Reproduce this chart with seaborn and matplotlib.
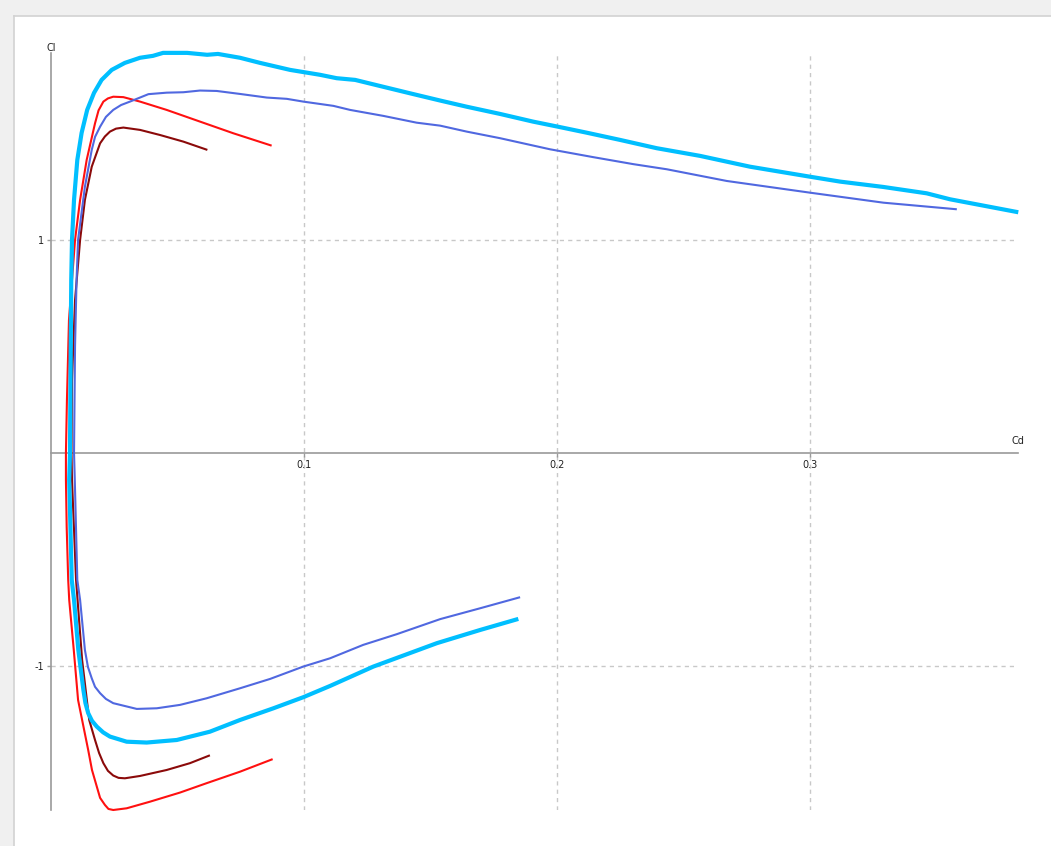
import numpy as np
import pandas as pd
import matplotlib
matplotlib.use("Agg")
import matplotlib.pyplot as plt
from matplotlib.patches import Rectangle
from matplotlib.lines import Line2D
import seaborn as sns

# Drag polars: each curve runs from the negative-Cl end, through Cl = 0, to the positive-Cl end.
cyan_cd = [0.1847, 0.1696, 0.1525, 0.1274, 0.1103, 0.0997, 0.0879, 0.0747, 0.0628, 0.0497,
           0.0378, 0.0299, 0.0233, 0.0206, 0.0181, 0.0162, 0.0147, 0.0136, 0.0128, 0.0108,
           0.0091, 0.0082, 0.0072,
           0.0075, 0.0078, 0.0080, 0.0083, 0.0091, 0.0104, 0.0121, 0.0143, 0.0170, 0.0200,
           0.0240, 0.0292, 0.0352, 0.0403, 0.0443, 0.0538, 0.0617, 0.0660, 0.0747, 0.0826,
           0.0945, 0.1063, 0.1129, 0.1202, 0.1312, 0.1419, 0.1538, 0.1643, 0.1775, 0.1905,
           0.2004, 0.2117, 0.2249, 0.2394, 0.2565, 0.2763, 0.3000, 0.3119, 0.3289, 0.3461,
           0.3553, 0.3823]
cyan_cl = [-0.781, -0.833, -0.895, -1.005, -1.096, -1.149, -1.201, -1.256, -1.311, -1.350,
           -1.362, -1.358, -1.334, -1.314, -1.287, -1.260, -1.224, -1.176, -1.115, -0.927,
           -0.692, -0.598, -0.128,
           0.000, 0.502, 0.812, 1.000, 1.188, 1.376, 1.503, 1.611, 1.691, 1.752,
           1.799, 1.832, 1.856, 1.865, 1.879, 1.879, 1.870, 1.874, 1.856, 1.832,
           1.799, 1.776, 1.760, 1.752, 1.720, 1.689, 1.655, 1.626, 1.592, 1.556,
           1.532, 1.504, 1.470, 1.431, 1.395, 1.344, 1.297, 1.274, 1.249, 1.219,
           1.191, 1.130]

blue_cd = [0.1854, 0.1696, 0.1538, 0.1366, 0.1234, 0.1103, 0.0997, 0.0866, 0.0747, 0.0615,
           0.0510, 0.0418, 0.0339, 0.0246, 0.0217, 0.0194, 0.0174, 0.0161, 0.0146, 0.0134,
           0.0115, 0.0104, 0.0094,
           0.0091, 0.0095, 0.0101, 0.0107, 0.0134, 0.0161, 0.0174, 0.0194, 0.0217, 0.0246,
           0.0277, 0.0312, 0.0385,
           0.0457, 0.0523, 0.0589, 0.0655, 0.0747, 0.0853, 0.0932, 0.0997, 0.1116, 0.1182,
           0.1313, 0.1445, 0.1538, 0.1643, 0.1775, 0.1972, 0.2143, 0.2302, 0.2434, 0.2671,
           0.3000, 0.3290, 0.3580]
blue_cl = [-0.679, -0.731, -0.782, -0.853, -0.903, -0.966, -1.005, -1.063, -1.107, -1.154,
           -1.185, -1.201, -1.204, -1.177, -1.157, -1.130, -1.100, -1.060, -1.007, -0.927,
           -0.692, -0.598, -0.128,
           0.000, 0.502, 0.812, 1.000, 1.250, 1.423, 1.484, 1.532, 1.578, 1.611,
           1.634, 1.650, 1.685,
           1.692, 1.694, 1.702, 1.700, 1.686, 1.669, 1.663, 1.650, 1.630, 1.611,
           1.583, 1.551, 1.537, 1.509, 1.478, 1.426, 1.389, 1.356, 1.332, 1.277,
           1.222, 1.175, 1.144]

red_cd = [0.0876, 0.0747, 0.0615, 0.0510, 0.0391, 0.0299, 0.0246, 0.0227, 0.0213, 0.0194,
          0.0181, 0.0162, 0.0147, 0.0107, 0.0090, 0.0072, 0.0068, 0.0062, 0.0059,
          0.0059, 0.0063, 0.0071, 0.0083, 0.0095, 0.0115, 0.0141, 0.0174, 0.0188, 0.0207,
          0.0225, 0.0246, 0.0286, 0.0352, 0.0457, 0.0589, 0.0721, 0.0872]
red_cl = [-1.440, -1.499, -1.553, -1.597, -1.640, -1.671, -1.679, -1.674, -1.655, -1.622,
          -1.569, -1.491, -1.397, -1.162, -0.927, -0.692, -0.598, -0.350, -0.128,
          0.000, 0.248, 0.623, 0.812, 1.000, 1.188, 1.376, 1.548, 1.609, 1.650,
          1.665, 1.673, 1.671, 1.650, 1.611, 1.556, 1.501, 1.443]

dark_cd = [0.0628, 0.0549, 0.0457, 0.0352, 0.0292, 0.0267, 0.0246, 0.0225, 0.0207, 0.0190,
           0.0174, 0.0151, 0.0123, 0.0099, 0.0083,
           0.0081, 0.0083, 0.0095, 0.0105, 0.0115, 0.0134, 0.0161, 0.0194, 0.0213, 0.0233,
           0.0257, 0.0286, 0.0352, 0.0431, 0.0523, 0.0618]
dark_cl = [-1.422, -1.459, -1.491, -1.519, -1.530, -1.528, -1.517, -1.495, -1.459, -1.411,
           -1.350, -1.256, -0.974, -0.598, -0.128,
           0.000, 0.342, 0.717, 0.858, 1.000, 1.188, 1.344, 1.454, 1.486, 1.509,
           1.523, 1.528, 1.517, 1.493, 1.462, 1.423]

x_ticks = [0.1, 0.2, 0.3]
x_tick_labels = ["0.1", "0.2", "0.3"]
y_ticks = [1, -1]
y_tick_labels = ["1", "-1"]

W, H, DPI = 1051, 846, 100
fig = plt.figure(figsize=(W / DPI, H / DPI), dpi=DPI, facecolor="#f0f0f0")

# white panel with a thin border on its top and left edges, kept behind the axes
fig.patches.append(Rectangle((14 / W, 0), 1, (H - 16) / H, transform=fig.transFigure,
                             facecolor="white", edgecolor="none", zorder=-10))
fig.lines.append(Line2D([14 / W, 1], [(H - 16) / H] * 2, transform=fig.transFigure,
                        color="#d2d2d2", lw=1.2, zorder=-9))
fig.lines.append(Line2D([14 / W] * 2, [0, (H - 16) / H], transform=fig.transFigure,
                        color="#d2d2d2", lw=1.2, zorder=-9))

ax_left, ax_right = 51, 1018.3
ax_top, ax_bottom = 53.3, 810
ax = fig.add_axes([ax_left / W, (H - ax_bottom) / H,
                   (ax_right - ax_left) / W, (ax_bottom - ax_top) / H])
ax.set_facecolor("none")

curves = [
    (red_cd, red_cl, "#ff1010", 1.5),
    (dark_cd, dark_cl, "#8b0a0a", 1.5),
    (blue_cd, blue_cl, "#5068e0", 1.5),
    (cyan_cd, cyan_cl, "#00bfff", 3.0),
]
for cd, cl, color, lw in curves:
    df = pd.DataFrame({"Cd": cd, "Cl": cl})
    sns.lineplot(data=df, x="Cd", y="Cl", sort=False, estimator=None, ax=ax,
                 color=color, lw=lw, clip_on=False, zorder=3,
                 solid_joinstyle="round", solid_capstyle="butt")

ax.set_xlim(0, 0.3823)
ax.set_ylim(-1.679, 1.877)

for side in ("top", "right"):
    ax.spines[side].set_visible(False)
ax.spines["bottom"].set_position(("data", 0))
for side in ("left", "bottom"):
    ax.spines[side].set_color("#9a9a9a")
    ax.spines[side].set_linewidth(1.2)

ax.set_xticks(x_ticks)
ax.set_xticklabels(x_tick_labels)
ax.set_yticks(y_ticks)
ax.set_yticklabels(y_tick_labels)
ax.tick_params(axis="both", direction="out", length=3, width=1, color="#9a9a9a",
               labelsize=7, labelcolor="#222222", pad=2)

ax.grid(True, color="#c8c8c8", linestyle=(0, (3, 3)), linewidth=1)
ax.set_axisbelow(True)

ax.set_xlabel("")
ax.set_ylabel("")
ax.text(0, 1.877, "Cl", transform=ax.transData, ha="center", va="bottom",
        fontsize=7, color="#222222")
ax.text(0.3823, 0.03, "Cd", transform=ax.transData, ha="center", va="bottom",
        fontsize=7, color="#222222")

fig.savefig("out.png", dpi=DPI, facecolor=fig.get_facecolor())
